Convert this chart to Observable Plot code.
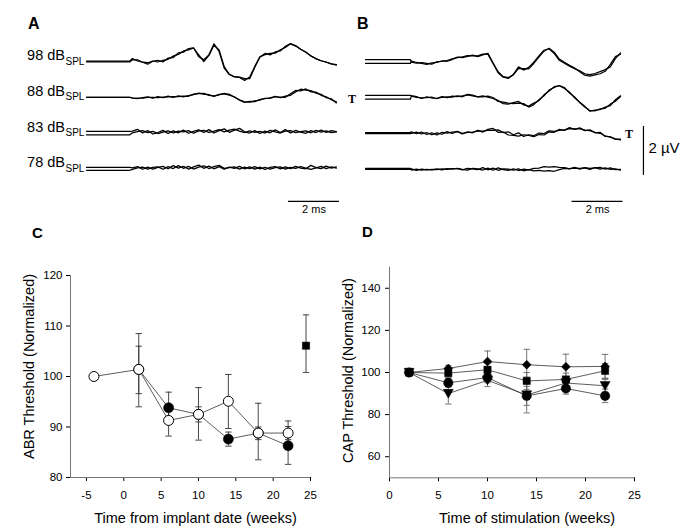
<!DOCTYPE html>
<html><head><meta charset="utf-8">
<script src="https://cdn.jsdelivr.net/npm/d3@7"></script>
<script src="https://cdn.jsdelivr.net/npm/@observablehq/plot@0.6"></script>
<style>
html,body{margin:0;padding:0;background:#fff;}
#fig{position:relative;width:689px;height:531px;overflow:hidden;background:#fff;font-family:"Liberation Sans",Arial,sans-serif;}
#fig svg{position:absolute;}
.letter{position:absolute;font-weight:bold;line-height:1;color:#000;}
</style></head><body>
<div id="fig"></div>
<script>
// ---------- Panels A & B : ABR / CAP traces (µV vs ms) ----------
const levels = ["98", "88", "83", "78"];
const stimOnsetA = 1.7, stimOnsetB = 1.76;
const timesA = [1.8,2.0,2.2,2.4,2.6,2.8,3.0,3.2,3.4,3.6,3.8,4.0,4.2,4.4,4.6,4.8,5.0,5.2,5.4,5.6,5.8,6.0,6.2,6.4,6.6,6.8,7.0,7.2,7.4,7.6,7.8,8.0,8.2,8.4,8.6,8.8,9.0,9.2,9.4,9.6,9.8];
const timesB = [1.8,2.0,2.2,2.4,2.6,2.8,3.0,3.2,3.4,3.6,3.8,4.0,4.2,4.4,4.6,4.8,5.0,5.2,5.4,5.6,5.8,6.0,6.2,6.4,6.6,6.8,7.0,7.2,7.4,7.6,7.8,8.0,8.2,8.4,8.6,8.8,9.0,9.2,9.4,9.6,9.8,10.0];

const A98a = [0.12,0.02,-0.03,-0.11,0.01,0.05,-0.02,0.14,0.16,0.35,0.38,0.53,0.56,0.20,0.07,0.27,0.72,0.41,-0.27,-0.53,-0.63,-0.65,-0.77,-0.63,-0.20,0.18,0.33,0.27,0.39,0.43,0.62,0.73,0.63,0.50,0.38,0.23,0.11,0.03,-0.03,-0.10,-0.15];
const A98b = [0.08,0.07,-0.03,-0.05,0.02,-0.02,0.05,0.09,0.22,0.29,0.43,0.47,0.55,0.27,0.00,0.25,0.66,0.47,-0.21,-0.52,-0.62,-0.64,-0.70,-0.70,-0.23,0.19,0.28,0.33,0.34,0.48,0.57,0.72,0.65,0.50,0.39,0.22,0.12,0.03,-0.02,-0.10,-0.13];
const A88a = [-0.04,-0.06,-0.01,0.02,-0.04,0.03,-0.02,0.05,-0.01,0.06,0.02,0.07,0.11,0.17,0.13,0.11,0.03,0.12,0.14,0.09,0.02,-0.12,-0.21,-0.17,-0.18,-0.09,-0.06,-0.02,0.04,-0.02,0.05,0.08,0.22,0.33,0.29,0.27,0.17,0.12,-0.02,-0.06,-0.23];
const A88b = [-0.02,-0.03,-0.04,0.00,0.00,-0.01,0.01,0.02,0.03,0.03,0.05,0.04,0.13,0.15,0.16,0.08,0.06,0.10,0.16,0.12,0.00,-0.10,-0.19,-0.20,-0.15,-0.12,-0.04,-0.05,0.02,0.01,0.00,0.14,0.28,0.26,0.34,0.22,0.21,0.08,0.02,-0.10,-0.19];
const A83a = [0.08,0.15,0.00,0.10,-0.04,0.02,0.11,-0.02,0.09,0.01,0.12,-0.01,0.07,0.13,0.02,0.14,0.00,0.10,0.17,0.03,0.12,0.19,0.05,0.00,0.10,-0.02,0.08,0.01,0.13,0.02,0.14,0.00,0.11,0.04,-0.01,0.10,0.02,0.12,0.03,0.10,0.06];
const A83b = [0.01,0.06,0.10,0.02,0.07,-0.02,0.04,0.09,0.00,0.08,0.05,0.10,-0.01,0.09,0.11,0.03,0.08,0.14,0.05,0.12,0.16,0.08,0.02,0.09,0.03,0.07,0.00,0.11,0.05,0.00,0.08,0.10,0.02,0.06,0.09,0.01,0.11,0.04,0.09,0.02,0.05];
const A78a = [0.04,0.09,-0.02,0.07,-0.01,0.06,0.10,0.00,0.13,0.03,0.10,-0.01,0.08,0.15,0.02,0.11,0.00,0.09,-0.02,0.07,0.02,0.10,0.00,0.08,-0.01,0.07,-0.03,0.06,0.09,0.00,0.08,0.01,0.10,0.03,0.00,0.14,0.05,0.01,0.11,0.03,0.08];
const A78b = [-0.02,0.04,0.07,-0.01,0.06,0.08,-0.02,0.09,0.01,0.13,0.02,0.10,-0.01,0.07,0.12,0.01,0.09,0.14,0.02,0.05,0.08,-0.01,0.07,0.01,0.09,0.00,0.06,-0.01,0.05,0.08,-0.01,0.06,0.02,0.09,0.03,-0.02,0.04,0.10,0.01,0.08,0.03];

const B98a = [-0.03,-0.07,-0.05,-0.08,-0.11,-0.01,0.01,0.04,0.11,0.16,0.19,0.24,0.23,0.23,0.30,0.30,-0.08,-0.46,-0.64,-0.69,-0.52,-0.22,-0.35,-0.24,-0.03,0.23,0.46,0.52,0.33,0.05,-0.07,-0.19,-0.29,-0.38,-0.50,-0.54,-0.49,-0.41,-0.33,-0.22,0.12,0.35];
const B98b = [0.02,-0.04,-0.08,-0.12,-0.06,-0.04,0.03,0.01,0.08,0.18,0.16,0.21,0.26,0.20,0.27,0.33,-0.05,-0.42,-0.62,-0.66,-0.55,-0.28,-0.29,-0.30,-0.08,0.18,0.42,0.54,0.38,0.10,-0.03,-0.15,-0.27,-0.42,-0.56,-0.60,-0.55,-0.50,-0.40,-0.12,0.20,0.30];
const B88a = [0.07,0.03,-0.05,0.02,-0.03,-0.04,0.03,-0.02,0.05,0.03,0.06,0.10,0.06,0.02,0.06,0.01,-0.05,-0.13,-0.26,-0.28,-0.22,-0.17,-0.31,-0.36,-0.24,-0.14,0.10,0.26,0.43,0.47,0.36,0.21,-0.02,-0.20,-0.37,-0.57,-0.52,-0.50,-0.40,-0.34,-0.10,0.06];
const B88b = [0.05,0.00,-0.02,-0.01,0.01,-0.06,0.00,0.02,0.01,0.06,0.02,0.12,0.09,0.02,0.02,0.05,-0.01,-0.17,-0.20,-0.24,-0.26,-0.24,-0.26,-0.40,-0.30,-0.10,0.06,0.29,0.40,0.48,0.40,0.17,0.01,-0.21,-0.40,-0.55,-0.56,-0.47,-0.45,-0.28,-0.16,0.03];
const B83a = [0.05,-0.03,0.04,-0.06,0.01,-0.08,0.03,0.00,0.04,0.06,-0.04,0.05,0.01,0.11,0.04,0.15,0.19,0.03,0.04,-0.08,-0.10,-0.13,-0.07,-0.10,-0.15,-0.06,-0.08,0.04,0.03,0.15,0.11,0.22,0.15,0.21,0.10,0.13,0.01,0.03,-0.14,-0.15,-0.26,-0.25];
const B83b = [-0.01,0.04,-0.04,0.02,-0.07,0.01,-0.05,0.06,-0.02,0.07,-0.01,0.03,0.04,0.08,0.08,0.11,0.11,0.13,0.02,0.05,-0.07,0.01,-0.14,-0.07,-0.11,0.00,-0.02,0.09,0.07,0.11,0.13,0.18,0.17,0.18,0.12,0.10,0.03,-0.01,-0.12,-0.17,-0.24,-0.28];
const B78a = [-0.05,-0.01,-0.05,-0.02,-0.04,0.00,-0.04,0.01,-0.01,0.02,-0.02,-0.05,0.02,0.00,-0.05,0.03,-0.06,0.04,-0.03,-0.06,0.00,-0.07,-0.01,-0.04,0.02,0.03,0.09,0.07,0.09,0.06,0.05,0.00,0.06,-0.01,0.05,0.02,0.04,0.06,-0.01,0.04,-0.03,-0.02];
const B78b = [0.00,-0.06,-0.01,-0.04,-0.02,-0.03,0.00,-0.02,0.01,0.01,-0.04,0.02,0.00,-0.03,0.05,-0.04,0.03,-0.06,0.00,-0.01,-0.05,0.00,-0.08,-0.03,-0.08,-0.06,-0.09,-0.07,-0.10,-0.03,0.02,0.01,0.03,0.02,0.04,-0.02,0.05,-0.01,0.04,-0.02,0.00,-0.05];

// pre-stimulus baseline of each of the two repeated recordings per level
const baseA = [[0.02,-0.02],[0,0],[0.07,-0.07],[0.06,-0.06]];
const baseB = [[0.08,-0.08],[0.08,-0.08],[0.02,-0.02],[0.02,-0.02]];
const thresholdB = [{row: 1, side: "start"}, {row: 2, side: "end"}];
const scaleMs = 2, scaleUV = 2;

// ---------- Panel C : ABR threshold ----------
const cOpenWeeks = [-4, 2, 6, 10, 14, 18, 22];
const cOpenVals  = [100, 101.4, 91.3, 92.5, 95.1, 88.8, 88.8];
const cOpenLow   = [null, 94.0, 88.2, 87.4, 89.7, 83.5, 87.5];
const cOpenHigh  = [null, 108.5, 94.4, 97.8, 100.4, 94.7, 91.2];
const cFillWeeks = [2, 6, 10, 14, 18, 22];
const cFillVals  = [101.4, 93.8, 92.5, 87.6, 88.8, 86.3];
const cFillLow   = [96.6, 90.7, 91.0, 86.2, 87.5, 82.6];
const cFillHigh  = [106.0, 96.9, 94.0, 89.0, 90.0, 90.1];
const cSqWeeks = [24.4], cSqVals = [106.1], cSqLow = [100.8], cSqHigh = [112.2];
const cXTicks = [-5, 0, 5, 10, 15, 20, 25];
const cYTicks = [80, 90, 100, 110, 120];

// ---------- Panel D : CAP threshold ----------
const dWeeks = [2, 6, 10, 14, 18, 22];
const dDiamond = [100, 101.9, 105.2, 103.7, 102.7, 102.9];
const dSquare  = [100, 99.7, 101.3, 96.0, 96.7, 100.8];
const dCircle  = [100, 95.1, 97.6, 88.9, 92.4, 88.9];
const dTriangle= [100, 90.0, 96.3, 89.3, 95.0, 93.7];
const dDiamondErr = [1, 1.5, 5, 7.3, 6, 5.7];
const dSquareErr  = [1, 2, 3, 4, 3, 3.5];
const dCircleErr  = [1.5, 2, 2.5, 4.5, 2.7, 3.2];
const dTriangleErr= [1.5, 5, 3, 8.5, 3, 3];
const dXTicks = [0, 5, 10, 15, 20, 25];
const dYTicks = [60, 80, 100, 120, 140];

// ================= drawing =================
const fig = document.getElementById("fig");
const FONT = "Liberation Sans, Arial, sans-serif";
const ROW = 1.46, PX_UV = 24.5, BASE_Y = 61, TRACE_H = 230, PX_MS = 25.5;

function buildTraces(times, pairs, bases, onset) {
  const rows = [];
  pairs.forEach((pair, i) => pair.forEach((vals, j) => {
    const id = i + "-" + j, off = -i * ROW;
    rows.push({id, t: 0, v: bases[i][j] + off});
    rows.push({id, t: onset, v: bases[i][j] + off});
    vals.forEach((v, k) => rows.push({id, t: times[k], v: v + off}));
  }));
  return rows;
}
function place(svg, left, top) { svg.style.left = left + "px"; svg.style.top = top + "px"; fig.appendChild(svg); }

const yTrace = {domain: [BASE_Y / PX_UV, (BASE_Y - TRACE_H) / PX_UV], range: [0, TRACE_H], axis: null};
const barY = -3 * ROW - 1.33;

// Panel A
const dataA = buildTraces(timesA, [[A98a, A98b], [A88a, A88b], [A83a, A83b], [A78a, A78b]], baseA, stimOnsetA);
const endA = timesA[timesA.length - 1] + 0.12;
const barA = [{x1: endA - scaleMs, x2: endA, y: barY}];
const plotA = Plot.plot({
  width: 345, height: TRACE_H,
  x: {domain: [0, 10], range: [86, 86 + 10 * PX_MS], axis: null},
  y: yTrace,
  style: {fontFamily: FONT, color: "#000", background: "transparent"},
  marks: [
    Plot.line(dataA, {x: "t", y: "v", z: "id", stroke: "#000", strokeWidth: 1.25}),
    Plot.text(levels, {x: () => 0, y: (d, i) => -i * ROW, text: d => d + " dB", textAnchor: "end", lineAnchor: "bottom", dx: -21.5, dy: -1.5, fontSize: 14.5, fill: "#000"}),
    Plot.text(levels, {x: () => 0, y: (d, i) => -i * ROW, text: () => "SPL", textAnchor: "start", lineAnchor: "bottom", dx: -21, dy: 3, fontSize: 10, fill: "#000"}),
    Plot.ruleY(barA, {x1: "x1", x2: "x2", y: "y", stroke: "#000", strokeWidth: 1.2}),
    Plot.text(barA, {x: d => (d.x1 + d.x2) / 2, y: "y", text: () => scaleMs + " ms", dy: 8.5, fontSize: 11, fill: "#000"})
  ]
});
place(plotA, 0, 0);

// Panel B
const dataB = buildTraces(timesB, [[B98a, B98b], [B88a, B88b], [B83a, B83b], [B78a, B78b]], baseB, stimOnsetB);
const endB = timesB[timesB.length - 1] + 0.1;
const barB = [{x1: endB - scaleMs, x2: endB, y: barY}];
const vBar = [{x: endB + 0.8, y1: -2 * ROW + 0.27, y2: -2 * ROW + 0.27 - scaleUV}];
const plotB = Plot.plot({
  width: 344, height: TRACE_H,
  x: {domain: [0, 10], range: [20, 20 + 10 * PX_MS], axis: null},
  y: yTrace,
  style: {fontFamily: FONT, color: "#000", background: "transparent"},
  marks: [
    Plot.line(dataB, {x: "t", y: "v", z: "id", stroke: "#000", strokeWidth: 1.25}),
    Plot.text(thresholdB, {x: d => d.side === "start" ? -0.53 : endB + 0.23, y: d => -d.row * ROW, text: () => "T", dy: 1.5, fontFamily: "Liberation Serif, serif", fontWeight: "bold", fontSize: 12, fill: "#000"}),
    Plot.ruleY(barB, {x1: "x1", x2: "x2", y: "y", stroke: "#000", strokeWidth: 1.2}),
    Plot.text(barB, {x: d => (d.x1 + d.x2) / 2, y: "y", text: () => scaleMs + " ms", dy: 8.5, fontSize: 11, fill: "#000"}),
    Plot.ruleX(vBar, {x: "x", y1: "y1", y2: "y2", stroke: "#000", strokeWidth: 1.2}),
    Plot.text(vBar, {x: "x", y: d => (d.y1 + d.y2) / 2, text: () => scaleUV + " µV", textAnchor: "start", dx: 5, dy: -2.5, fontSize: 15, fill: "#000"})
  ]
});
place(plotB, 345, 0);

// symbols
const capSymbol = {draw(ctx) { ctx.moveTo(-3.2, 0); ctx.lineTo(3.2, 0); }};
const triDown = {draw(ctx) { ctx.moveTo(-5, -4.2); ctx.lineTo(5, -4.2); ctx.lineTo(0, 4.6); ctx.closePath(); }};

function errRows(ws, vs, lo, hi) {
  return ws.map((w, i) => ({w, v: vs[i], lo: lo[i], hi: hi[i]}));
}
function capsOf(rows) {
  const out = [];
  rows.forEach(d => { if (d.lo != null) { out.push({w: d.w, y: d.lo}); out.push({w: d.w, y: d.hi}); } });
  return out;
}
const AXIS = "#777";

// Panel C
const cOpen = errRows(cOpenWeeks, cOpenVals, cOpenLow, cOpenHigh);
const cFill = errRows(cFillWeeks, cFillVals, cFillLow, cFillHigh);
const cSq = errRows(cSqWeeks, cSqVals, cSqLow, cSqHigh);
const cAll = [...cOpen, ...cFill, ...cSq];
const cXDomain = [-7.14, 25], cYDomain = [80, 120];
const errC = "#333";
const plotC = Plot.plot({
  width: 340, height: 276, marginTop: 20, marginBottom: 54, marginLeft: 70, marginRight: 30,
  x: {domain: cXDomain, ticks: cXTicks, tickSize: 4, tickPadding: 9, tickFormat: d => String(d), label: null},
  y: {domain: cYDomain, ticks: cYTicks, tickSize: 4, tickPadding: 4, tickFormat: d => String(d), label: null},
  style: {fontFamily: FONT, fontSize: "11.5px", color: "#000", background: "transparent"},
  marks: [
    Plot.ruleX([cXDomain[0]], {stroke: AXIS}),
    Plot.ruleY([cYDomain[0]], {stroke: AXIS}),
    Plot.ruleX(cAll.filter(d => d.lo != null), {x: "w", y1: "lo", y2: "hi", stroke: errC, strokeWidth: 0.9}),
    Plot.dot(capsOf(cAll), {x: "w", y: "y", symbol: capSymbol, stroke: errC, strokeWidth: 0.9, fill: "none"}),
    Plot.line(cFill, {x: "w", y: "v", stroke: "#333", strokeWidth: 0.8}),
    Plot.line(cOpen, {x: "w", y: "v", stroke: "#333", strokeWidth: 0.8}),
    Plot.dot(cFill, {x: "w", y: "v", r: 5, fill: "#000", stroke: "#000", strokeWidth: 0.6}),
    Plot.dot(cOpen, {x: "w", y: "v", r: 5, fill: "#fff", stroke: "#000", strokeWidth: 1}),
    Plot.dot(cSq, {x: "w", y: "v", symbol: "square", r: 4.1, fill: "#000", stroke: "#000", strokeWidth: 0.5}),
    Plot.text(["ABR Threshold (Normalized)"], {text: d => d, x: () => cXDomain[0], y: () => (cYDomain[0] + cYDomain[1]) / 2, rotate: -90, dx: -41, dy: -10, fontSize: 14.5, fill: "#000"}),
    Plot.text(["Time from implant date (weeks)"], {text: d => d, x: () => (cXDomain[0] + cXDomain[1]) / 2, y: () => cYDomain[0], dx: 5, dy: 40.7, fontSize: 14.5, fill: "#000"})
  ]
});
place(plotC, 0, 255);

// Panel D
const dSeries = [
  {name: "diamond", vals: dDiamond, err: dDiamondErr},
  {name: "square", vals: dSquare, err: dSquareErr},
  {name: "triangle", vals: dTriangle, err: dTriangleErr},
  {name: "circle", vals: dCircle, err: dCircleErr}
];
const dRows = [];
dSeries.forEach(s => dWeeks.forEach((w, i) => dRows.push({s: s.name, w, v: s.vals[i], lo: s.vals[i] - s.err[i], hi: s.vals[i] + s.err[i]})));
const dXDomain = [0, 25], dYDomain = [50, 150];
const errD = "#666";
const bySeries = n => dRows.filter(d => d.s === n);
const plotD = Plot.plot({
  width: 359, height: 276, marginTop: 11.7, marginBottom: 53.7, marginLeft: 59, marginRight: 55,
  x: {domain: dXDomain, ticks: dXTicks, tickSize: 4, tickPadding: 9, tickFormat: d => String(d), label: null},
  y: {domain: dYDomain, ticks: dYTicks, tickSize: 4, tickPadding: 5, tickFormat: d => String(d), label: null},
  style: {fontFamily: FONT, fontSize: "11.5px", color: "#000", background: "transparent"},
  marks: [
    Plot.ruleX([dXDomain[0]], {stroke: AXIS}),
    Plot.ruleY([dYDomain[0]], {stroke: AXIS}),
    Plot.ruleX(dRows, {x: "w", y1: "lo", y2: "hi", stroke: errD, strokeWidth: 0.9}),
    Plot.dot(capsOf(dRows), {x: "w", y: "y", symbol: capSymbol, stroke: errD, strokeWidth: 0.9, fill: "none"}),
    Plot.line(dRows, {x: "w", y: "v", z: "s", stroke: "#333", strokeWidth: 0.8}),
    Plot.dot(bySeries("diamond"), {x: "w", y: "v", symbol: "diamond2", r: 4, fill: "#000", stroke: "#000", strokeWidth: 0.5}),
    Plot.dot(bySeries("square"), {x: "w", y: "v", symbol: "square", r: 4.1, fill: "#000", stroke: "#000", strokeWidth: 0.5}),
    Plot.dot(bySeries("triangle"), {x: "w", y: "v", symbol: triDown, fill: "#000", stroke: "#000", strokeWidth: 0.5}),
    Plot.dot(bySeries("circle"), {x: "w", y: "v", r: 4.7, fill: "#000", stroke: "#000", strokeWidth: 0.5}),
    Plot.text(["CAP Threshold (Normalized)"], {text: d => d, x: () => dXDomain[0], y: () => (dYDomain[0] + dYDomain[1]) / 2, rotate: -90, dx: -41, dy: -2, fontSize: 14.5, fill: "#000"}),
    Plot.text(["Time of stimulation (weeks)"], {text: d => d, x: () => (dXDomain[0] + dXDomain[1]) / 2, y: () => dYDomain[0], dx: 15, dy: 40.7, fontSize: 14.5, fill: "#000"})
  ]
});
place(plotD, 330, 255);

// panel letters
[["A", 28, 16, 16], ["B", 357, 16, 16], ["C", 32, 225, 15], ["D", 362, 224, 15]].forEach(([t, l, tp, fs]) => {
  const el = document.createElement("div");
  el.className = "letter"; el.textContent = t;
  el.style.left = l + "px"; el.style.top = tp + "px"; el.style.fontSize = fs + "px";
  fig.appendChild(el);
});
</script>
</body></html>
